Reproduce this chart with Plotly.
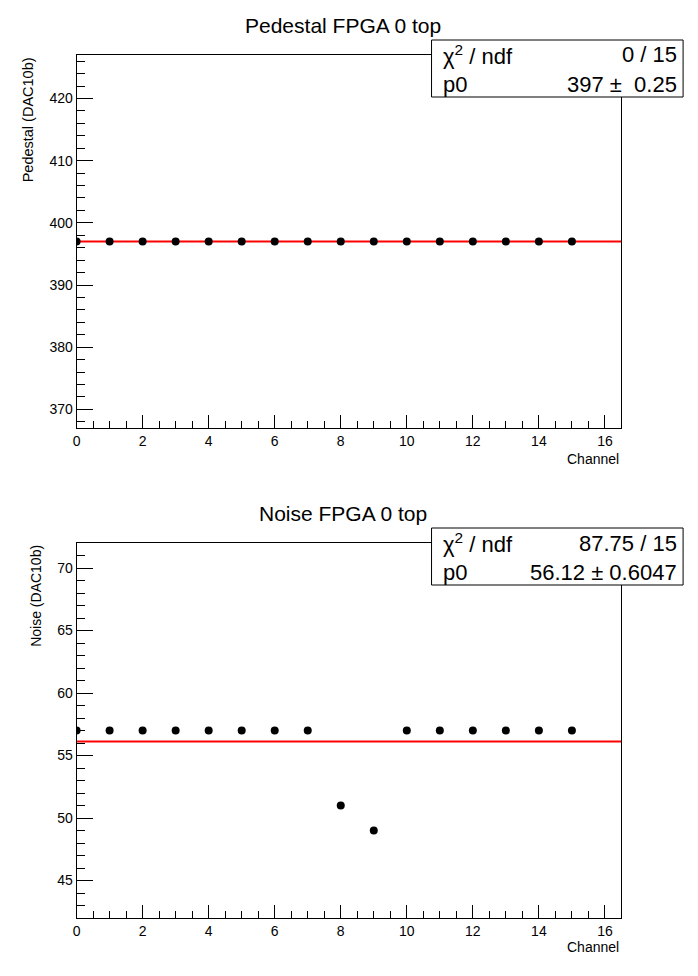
"""Pedestal / noise per channel for FPGA 0 top, with constant fits (ROOT-like look)."""

import plotly.graph_objects as go

W, H = 698, 976

channels = list(range(16))
pedestal = [397, 397, 397, 397, 397, 397, 397, 397, 397, 397, 397, 397, 397, 397, 397, 397]
noise = [57, 57, 57, 57, 57, 57, 57, 57, 51, 49, 57, 57, 57, 57, 57, 57]

ped_fit = 397.0
noise_fit = 56.12
x_range = [0, 16.5]

ped_stats = [("χ<sup>2</sup> / ndf", "0 / 15"), ("p0", "397 ±  0.25")]
noise_stats = [("χ<sup>2</sup> / ndf", "87.75 / 15"), ("p0", "56.12 ± 0.6047")]

FONT = "Liberation Sans, Arial, Helvetica, sans-serif"


def px_x(p):
    return p / W


def px_y(p):
    return 1 - p / H


fig = go.Figure()

# --- data + fit lines ---
for axis_id, vals, fit in (("", pedestal, ped_fit), ("2", noise, noise_fit)):
    fig.add_trace(go.Scatter(
        x=x_range, y=[fit, fit], mode="lines",
        line=dict(color="#ff0000", width=2),
        xaxis="x" + axis_id, yaxis="y" + axis_id, showlegend=False, hoverinfo="skip",
    ))
    fig.add_trace(go.Scatter(
        x=channels, y=vals, mode="markers",
        marker=dict(color="black", size=8),
        xaxis="x" + axis_id, yaxis="y" + axis_id, showlegend=False,
    ))

x_dom = [px_x(73), px_x(621)]

common_x = dict(
    range=x_range, dtick=2, tick0=0, ticks="inside", ticklen=13, tickwidth=1,
    tickcolor="black", showline=True, linecolor="black", linewidth=1, mirror=True,
    showgrid=False, zeroline=False, tickfont=dict(family=FONT, size=14, color="black"),
    minor=dict(ticks="inside", ticklen=7, dtick=0.5, tickcolor="black", showgrid=False),
    domain=x_dom,
)
common_y = dict(
    ticks="inside", ticklen=16, tickwidth=1, tickcolor="black",
    showline=True, linecolor="black", linewidth=1, mirror=True,
    showgrid=False, zeroline=False, tickfont=dict(family=FONT, size=14, color="black"),
)

fig.update_layout(
    width=W, height=H,
    margin=dict(l=0, r=0, t=0, b=0),
    paper_bgcolor="white", plot_bgcolor="white",
    font=dict(family=FONT, color="black"),
    xaxis=dict(common_x, anchor="y"),
    yaxis=dict(common_y, range=[367, 427], dtick=10, tick0=370,
               minor=dict(ticks="inside", ticklen=8, dtick=2, tickcolor="black", showgrid=False),
               domain=[px_y(428), px_y(55)], anchor="x"),
    xaxis2=dict(common_x, anchor="y2"),
    yaxis2=dict(common_y, range=[42, 72], dtick=5, tick0=45,
                minor=dict(ticks="inside", ticklen=8, dtick=1, tickcolor="black", showgrid=False),
                domain=[px_y(918), px_y(543)], anchor="x2"),
)

# --- titles, axis titles ---
ann = []
for title, ty in (("Pedestal FPGA 0 top", 25), ("Noise FPGA 0 top", 513)):
    ann.append(dict(text=title, x=px_x(341), y=px_y(ty), xref="paper", yref="paper",
                    xanchor="center", yanchor="middle", showarrow=False,
                    font=dict(size=21)))
for ty in (459, 947):
    ann.append(dict(text="Channel", x=px_x(621), y=px_y(ty), xref="paper", yref="paper",
                    xanchor="right", yanchor="middle", showarrow=False, font=dict(size=14)))
ann.append(dict(text="Pedestal (DAC10b)", x=px_x(25), y=px_y(55), xref="paper", yref="paper",
                xanchor="center", yanchor="top", textangle=-90, showarrow=False,
                font=dict(size=14.5)))
ann.append(dict(text="Noise (DAC10b)", x=px_x(32), y=px_y(543), xref="paper", yref="paper",
                xanchor="center", yanchor="top", textangle=-90, showarrow=False,
                font=dict(size=14)))

# --- stat boxes ---
shapes = []
for stats, top in ((ped_stats, 40), (noise_stats, 528)):
    shapes.append(dict(type="rect", xref="paper", yref="paper",
                       x0=px_x(430), x1=px_x(683), y0=px_y(top + 57), y1=px_y(top),
                       line=dict(color="black", width=1), fillcolor="white", layer="above"))
    for i, (label, value) in enumerate(stats):
        yy = px_y(top + 15 + i * 29)
        ann.append(dict(text=label, x=px_x(440), y=yy, xref="paper", yref="paper",
                        xanchor="left", yanchor="middle", showarrow=False, font=dict(size=22)))
        ann.append(dict(text=value, x=px_x(679), y=yy, xref="paper", yref="paper",
                        xanchor="right", yanchor="middle", showarrow=False, font=dict(size=22)))

fig.update_layout(annotations=ann, shapes=shapes)

fig.write_html("out.html", config={"displayModeBar": False})

# drop the browser's default body margin so the figure sits at the page origin
with open("out.html", encoding="utf-8") as f:
    page = f.read()
page = page.replace("<body>", '<body style="margin:0;overflow:hidden">', 1)
with open("out.html", "w", encoding="utf-8") as f:
    f.write(page)
